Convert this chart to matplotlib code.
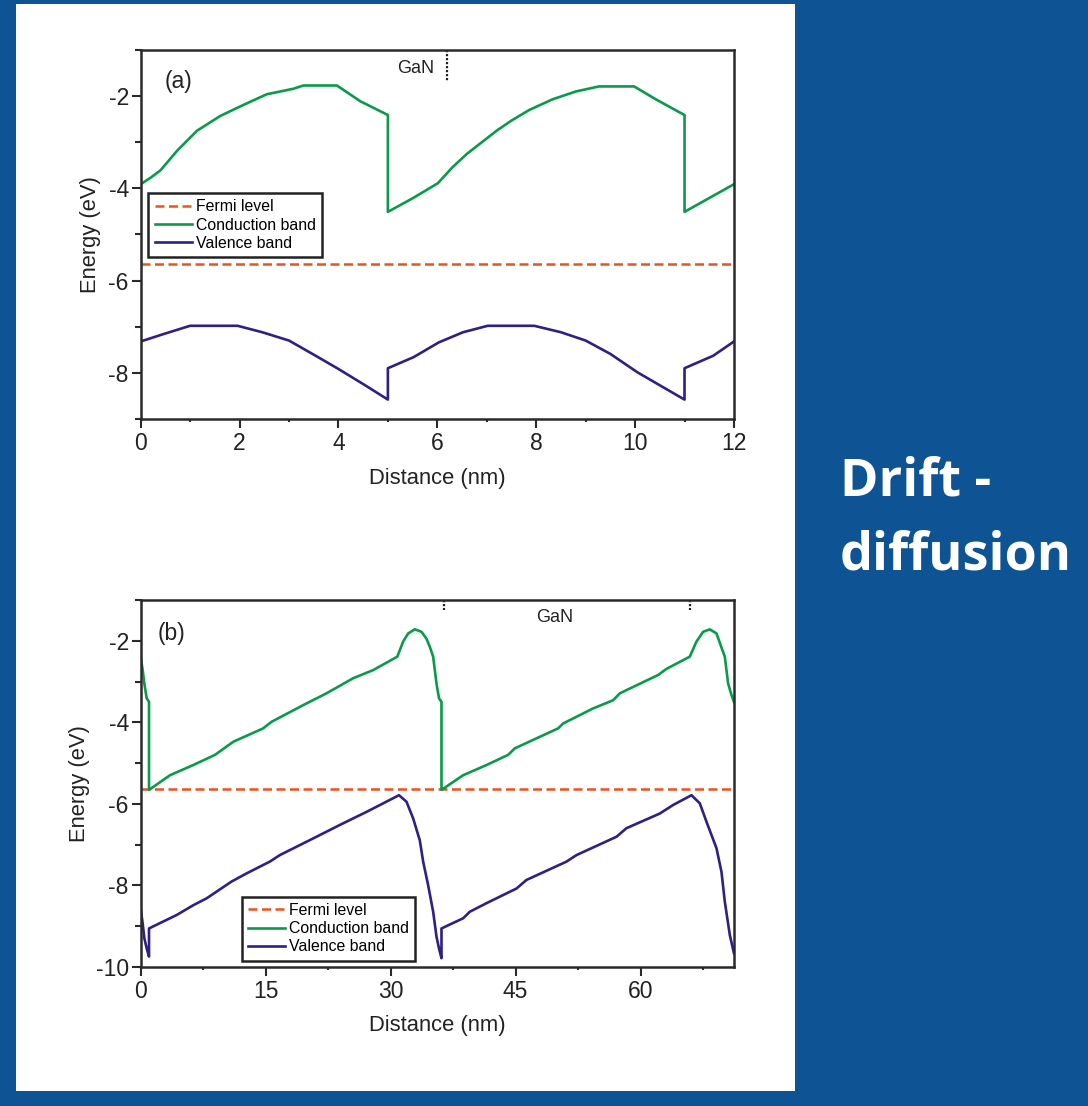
import matplotlib
matplotlib.use("Agg")
import matplotlib.pyplot as plt
from matplotlib.patches import Rectangle
from matplotlib.ticker import MultipleLocator

# ---------------- band-edge data ----------------
# (a) short period structure, distance in nm, energy in eV
dist_a_cb = [0.0, 0.20, 0.40, 0.74, 1.14, 1.61, 2.08, 2.55, 3.09, 3.29, 3.97, 4.44, 5.0,
             5.0, 5.51, 6.01, 6.30, 6.60, 6.90, 7.20, 7.50, 7.86, 8.33, 8.80, 9.27, 9.98,
             10.42, 11.0, 11.0, 11.5, 12.0]
cb_a = [-3.91, -3.77, -3.61, -3.18, -2.75, -2.43, -2.19, -1.96, -1.84, -1.77, -1.77, -2.11, -2.41,
        -4.51, -4.21, -3.89, -3.55, -3.25, -3.00, -2.75, -2.53, -2.30, -2.07, -1.90, -1.79, -1.79,
        -2.07, -2.41, -4.51, -4.21, -3.91]

dist_a_vb = [0.0, 0.46, 1.0, 1.96, 2.46, 3.0, 3.54, 3.99, 4.54, 5.0,
             5.0, 5.52, 6.03, 6.52, 7.02, 7.96, 8.5, 9.0, 9.5, 10.05, 10.5, 11.0,
             11.0, 11.58, 12.0]
vb_a = [-7.32, -7.16, -6.98, -6.98, -7.12, -7.30, -7.63, -7.91, -8.27, -8.58,
        -7.90, -7.66, -7.34, -7.12, -6.98, -6.98, -7.12, -7.30, -7.59, -7.99, -8.27, -8.58,
        -7.90, -7.63, -7.32]

fermi_a = -5.65

# (b) long period structure
dist_b_cb = [0.0, 0.24, 0.44, 0.72, 1.0, 1.0, 3.52, 6.31, 8.92, 11.1, 14.7, 15.7, 19.5,
             22.3, 25.5, 27.9, 30.8, 31.5, 32.1, 32.9, 33.7, 34.3, 34.7, 35.1, 35.5, 35.8,
             36.1, 36.1, 38.7, 41.5, 44.1, 44.9, 50.1, 50.7, 54.3, 56.7, 57.5, 62.1, 63.1,
             65.9, 66.7, 67.5, 68.3, 69.1, 70.1, 70.5, 70.9, 71.2]
cb_b = [-2.39, -2.72, -3.05, -3.41, -3.50, -5.66, -5.30, -5.05, -4.80, -4.48, -4.15, -3.99, -3.58,
        -3.29, -2.92, -2.72, -2.39, -2.02, -1.82, -1.72, -1.78, -1.95, -2.15, -2.39, -3.05, -3.41,
        -3.50, -5.66, -5.30, -5.05, -4.80, -4.64, -4.15, -4.03, -3.66, -3.46, -3.29, -2.84, -2.69,
        -2.39, -2.02, -1.78, -1.72, -1.82, -2.39, -3.05, -3.33, -3.50]

dist_b_vb = [0.0, 0.24, 0.44, 0.72, 1.0, 1.0, 4.32, 6.31, 7.92, 10.9, 12.7, 15.5, 16.7,
             21.1, 23.9, 27.1, 29.1, 31.0, 31.9, 32.7, 33.5, 33.9, 34.5, 35.1, 35.5, 35.8,
             36.1, 36.1, 38.7, 39.5, 41.5, 45.1, 46.3, 51.1, 52.3, 57.1, 58.3, 62.3, 63.9,
             66.1, 67.1, 67.9, 69.1, 69.7, 70.1, 70.7, 71.2]
vb_b = [-8.57, -8.94, -9.30, -9.55, -9.75, -9.06, -8.73, -8.49, -8.32, -7.91, -7.71, -7.42, -7.26,
        -6.81, -6.52, -6.20, -5.99, -5.79, -5.95, -6.36, -6.90, -7.42, -8.00, -8.65, -9.26, -9.55,
        -9.79, -9.06, -8.81, -8.65, -8.44, -8.08, -7.87, -7.42, -7.26, -6.81, -6.60, -6.24, -6.03,
        -5.79, -5.99, -6.44, -7.09, -7.67, -8.40, -9.22, -9.67]

fermi_b = -5.65

# GaN layer boundary markers on the top axis
gan_marks_a = [6.19]
gan_marks_b = [36.4, 65.9]

xticks_a = [0, 2, 4, 6, 8, 10, 12]
yticks_a = [-2, -4, -6, -8]
xticks_b = [0, 15, 30, 45, 60]
yticks_b = [-2, -4, -6, -8, -10]

legend_labels = ["Fermi level", "Conduction band", "Valence band"]

# ---------------- styling ----------------
BLUE = "#0E5494"
C_FERMI = "#F0501A"
C_CB = "#0A9B4A"
C_VB = "#2F1F86"
AXC = "#2a2a2a"
TXT = "#222222"

plt.rcParams["font.family"] = ["Liberation Sans", "DejaVu Sans"]
plt.rcParams["axes.unicode_minus"] = False

fig = plt.figure(figsize=(10.88, 11.06), dpi=100, facecolor=BLUE)
fig.patches.append(Rectangle((16 / 1088, 1 - 1091 / 1106), 779 / 1088, 1087 / 1106,
                             transform=fig.transFigure, facecolor="white",
                             edgecolor="none", zorder=-10))

ax_a = fig.add_axes([0.1293, 0.6212, 0.5453, 0.3336])
ax_b = fig.add_axes([0.1293, 0.1259, 0.5453, 0.3316])


def style_axes(ax, xlim, ylim, xt, yt, xminor, yminor, ypad):
    ax.set_facecolor("none")
    ax.set_xlim(*xlim)
    ax.set_ylim(*ylim)
    ax.set_xticks(xt)
    ax.set_yticks(yt)
    ax.xaxis.set_minor_locator(MultipleLocator(xminor))
    ax.yaxis.set_minor_locator(MultipleLocator(yminor))
    for s in ax.spines.values():
        s.set_linewidth(1.8)
        s.set_color(AXC)
    ax.tick_params(which="major", direction="out", length=6.5, width=1.5,
                   color=AXC, labelsize=16.5, labelcolor=TXT)
    ax.tick_params(axis="x", which="minor", direction="out", length=2.5, width=1.5, color=AXC)
    ax.tick_params(axis="y", which="minor", direction="out", length=4, width=1.5, color=AXC)
    ax.tick_params(axis="x", pad=3.0)
    ax.tick_params(axis="y", pad=2.0)
    ax.set_xlabel("Distance (nm)", fontsize=15.8, color=TXT, labelpad=9)
    ax.set_ylabel("Energy (eV)", fontsize=15.8, color=TXT, labelpad=ypad)


def draw_bands(ax, fermi, xc, cb, xv, vb):
    ax.axhline(fermi, color=C_FERMI, lw=1.8, dashes=(3.6, 1.8), label=legend_labels[0])
    ax.plot(xc, cb, color=C_CB, lw=1.9, label=legend_labels[1])
    ax.plot(xv, vb, color=C_VB, lw=1.9, label=legend_labels[2])


def add_legend(ax, anchor):
    leg = ax.legend(loc="upper left", bbox_to_anchor=anchor, borderaxespad=0,
                    fontsize=11.4, handlelength=2.35, handletextpad=0.25,
                    labelspacing=0.2, borderpad=0.4, fancybox=False, framealpha=1)
    leg.get_frame().set_edgecolor(TXT)
    leg.get_frame().set_linewidth(1.8)
    return leg


# ---- panel (a) ----
style_axes(ax_a, (0, 12), (-9, -1), xticks_a, yticks_a, 1, 1, 5.5)
draw_bands(ax_a, fermi_a, dist_a_cb, cb_a, dist_a_vb, vb_a)
for xm in gan_marks_a:
    ax_a.plot([xm, xm], [-1.0, -1.7], color=TXT, lw=1.6, ls=(0, (1, 0.8)))
ax_a.text(0.041, 0.946, "(a)", transform=ax_a.transAxes, fontsize=16.5, va="top",
          ha="left", color=TXT)
ax_a.text(5.56, -1.40, "GaN", fontsize=13, ha="center", va="center", color=TXT)
add_legend(ax_a, (0.0128, 0.612))

# ---- panel (b) ----
style_axes(ax_b, (0, 71.2), (-10, -1), xticks_b, yticks_b, 7.5, 1, 4)
draw_bands(ax_b, fermi_b, dist_b_cb, cb_b, dist_b_vb, vb_b)
for xm in gan_marks_b:
    ax_b.plot([xm, xm], [-1.0, -1.25], color=TXT, lw=1.6, ls=(0, (1, 0.8)))
ax_b.text(0.029, 0.94, "(b)", transform=ax_b.transAxes, fontsize=16.5, va="top",
          ha="left", color=TXT)
ax_b.text(49.7, -1.44, "GaN", fontsize=13, ha="center", va="center", color=TXT)
add_legend(ax_b, (0.170, 0.191))

# ---- side title ----
fig.text(0.772, 1 - 496 / 1106, "Drift -", fontsize=37.5, fontweight="bold",
         family=["Open Sans", "DejaVu Sans"], color="white", va="baseline", ha="left")
fig.text(0.772, 1 - 570 / 1106, "diffusion", fontsize=37.5, fontweight="bold",
         family=["Open Sans", "DejaVu Sans"], color="white", va="baseline", ha="left")

fig.savefig("out.png", dpi=100, facecolor=BLUE)
